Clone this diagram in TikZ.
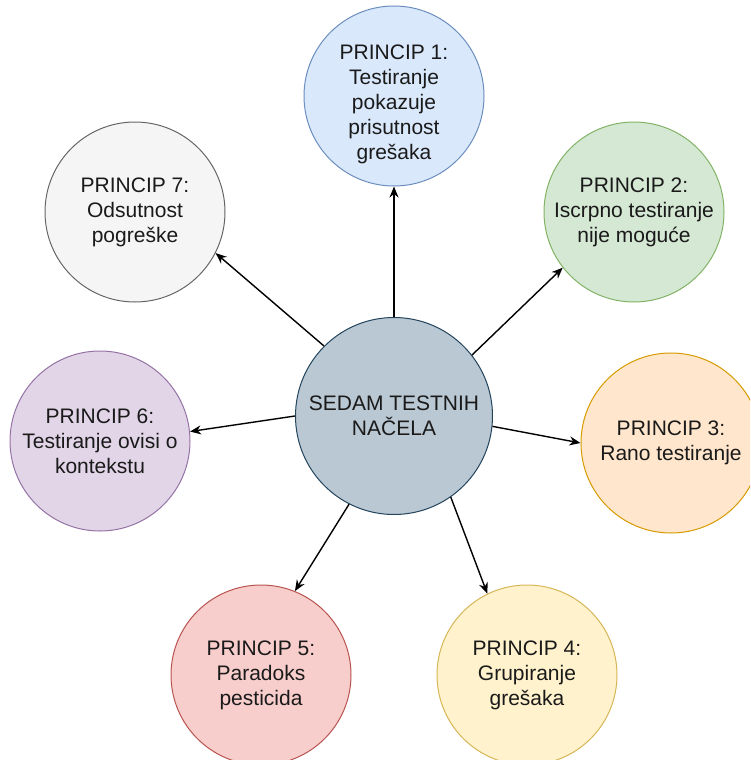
\documentclass[tikz,border=0pt]{standalone}
\usepackage{fontspec}
\setmainfont{Liberation Sans}
\usetikzlibrary{arrows.meta}
\definecolor{f1}{HTML}{DAE8FC}\definecolor{s1}{HTML}{6C8EBF}
\definecolor{f2}{HTML}{D5E8D4}\definecolor{s2}{HTML}{82B366}
\definecolor{f3}{HTML}{FFE6CC}\definecolor{s3}{HTML}{D79B00}
\definecolor{f4}{HTML}{FFF2CC}\definecolor{s4}{HTML}{D6B656}
\definecolor{f5}{HTML}{F8CECC}\definecolor{s5}{HTML}{B85450}
\definecolor{f6}{HTML}{E1D5E7}\definecolor{s6}{HTML}{9673A6}
\definecolor{f7}{HTML}{F5F5F5}\definecolor{s7}{HTML}{666666}
\definecolor{fc}{HTML}{BAC8D3}\definecolor{sc}{HTML}{23445D}
\definecolor{txt}{HTML}{1A1A1A}
\begin{document}
\begin{tikzpicture}[x=1pt,y=-1pt,
  pctext/.style={align=center, inner sep=0pt, text=txt, font=\fontsize{21}{25}\selectfont},
  pc/.style={pctext, circle, minimum size=180pt, line width=1pt},
  arr/.style={-{Stealth[length=11pt,width=9pt,inset=3.5pt]}, line width=1.4pt, black}]
\useasboundingbox (0,0) rectangle (750,760);
\clip (0,0) rectangle (750,760);
\node[pc, minimum size=197pt, fill=fc, draw=sc] (c) at (394,416) {SEDAM TESTNIH\\NAČELA};
\node[pc, fill=f1, draw=s1] (p1) at (394,96) {};
\node[pctext] (p1t) at (394,104) {PRINCIP 1:\\Testiranje\\pokazuje\\prisutnost\\grešaka};
\node[pc, fill=f2, draw=s2] (p2) at (634,212) {PRINCIP 2:\\Iscrpno testiranje\\nije moguće};
\node[pc, fill=f3, draw=s3] (p3) at (671,443) {PRINCIP 3:\\Rano testiranje};
\node[pc, fill=f4, draw=s4] (p4) at (527,675) {PRINCIP 4:\\Grupiranje\\grešaka};
\node[pc, fill=f5, draw=s5] (p5) at (261,675) {PRINCIP 5:\\Paradoks\\pesticida};
\node[pc, fill=f6, draw=s6] (p6) at (100,441) {PRINCIP 6:\\Testiranje ovisi o\\kontekstu};
\node[pc, fill=f7, draw=s7] (p7) at (135,212) {PRINCIP 7:\\Odsutnost\\pogreške};
\draw[arr] (c.90) -- (p1.270);
\draw[arr] (c.38) -- (p2.218);
\draw[arr] (c.-6) -- (p3.180);
\draw[arr] (c.-55) -- (p4.116);
\draw[arr] (c.-117) -- (p5.68);
\draw[arr] (c.180) -- (p6.6);
\draw[arr] (c.135) -- (p7.-27);
\end{tikzpicture}
\end{document}
